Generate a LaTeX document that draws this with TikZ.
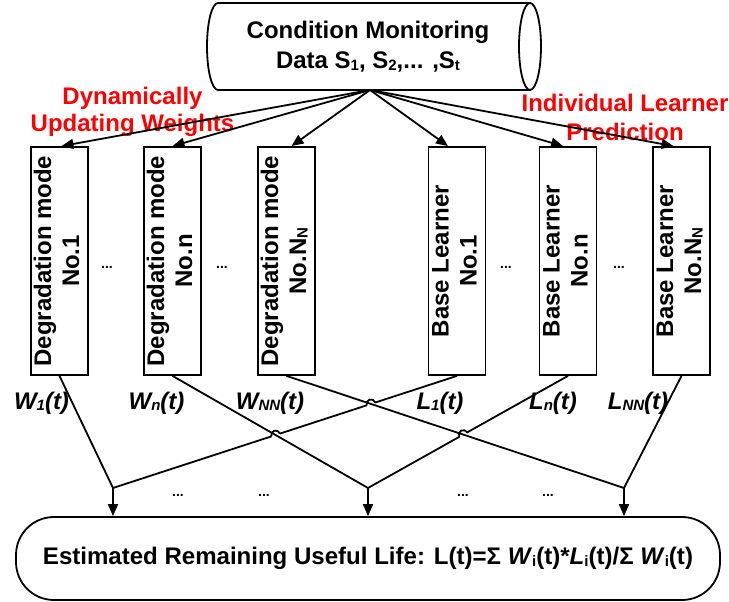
\documentclass[tikz,border=0pt]{standalone}
\usepackage{fontspec}
\setmainfont{Liberation Sans}
\usetikzlibrary{arrows.meta,calc}
% small subscript set just below the baseline
\newcommand\lowsub[1]{\raisebox{-1.5pt}{\fontsize{15}{15}\selectfont #1}}
\newcommand\vlabel[2]{\rotatebox{90}{\begin{tabular}{@{}c@{}}#1\\#2\end{tabular}}}

\begin{document}
\begin{tikzpicture}[x=1pt,y=1pt,
  txt/.style={font=\bfseries\fontsize{24}{28}\selectfont},
  unit/.style={txt, draw, line width=1.8pt, minimum width=57pt, minimum height=228pt, inner sep=0pt},
  lbl/.style={txt, inner sep=0pt},
  link/.style={line width=1.8pt},
  feed/.style={link, -{Triangle[length=12pt,width=10pt]}},
  dots/.style={font=\bfseries\fontsize{14}{14}\selectfont, inner sep=0pt},
  note/.style={text=red, align=center, inner sep=0pt}]
\useasboundingbox (0,0) rectangle (729,602);

% data source (horizontal cylinder)
\draw[link] (530,599) -- (218,599) arc[start angle=90, end angle=270, x radius=11, y radius=43.5] -- (530,512);
\draw[link] (530,555.5) ellipse[x radius=11, y radius=43.5];
\node[align=center, inner sep=0pt, font=\bfseries\fontsize{24}{30}\selectfont] (src) at (368,555)
  {Condition Monitoring\\Data S\lowsub{1}, S\lowsub{2},... ,S\lowsub{t}};
\coordinate (hub) at (370,512);

% red annotations
\node[note, font=\bfseries\fontsize{24}{27}\selectfont] (nw) at (132.5,490.5) {Dynamically\\Updating Weights};
\node[note, font=\bfseries\fontsize{24}{29}\selectfont] (nl) at (625,484.5) {Individual Learner\\Prediction};

% degradation modes and base learners
\node[unit] (b1) at (59.5,341) {\vlabel{Degradation mode}{No.1}};
\node[unit] (b2) at (172.5,341) {\vlabel{Degradation mode}{No.n}};
\node[unit] (b3) at (286.5,341) {\vlabel{Degradation mode}{No.N\lowsub{N}}};
\node[unit] (b4) at (457,341) {\vlabel{Base Learner}{No.1}};
\node[unit] (b5) at (568,341) {\vlabel{Base Learner}{No.n}};
\node[unit] (b6) at (681.5,341) {\vlabel{Base Learner}{No.N\lowsub{N}}};

\foreach \x in {107,222,506,619} \node[dots] at (\x,335) {...};

% feeds from the data source
\draw[feed] (hub) -- ($(b1.north)+(2,0)$);
\draw[feed] (hub) -- (b2.north);
\draw[feed] (hub) -- ($(b3.north)+(5,0)$);
\draw[feed] (hub) -- ($(b4.north)+(-9,0)$);
\draw[feed] (hub) -- ($(b5.north)+(-5,0)$);
\draw[feed] (hub) -- ($(b6.north)+(-8,0)$);

% output labels
\node[lbl] (w1) at (41.5,199) {\itshape W\lowsub{1}(t)};
\node[lbl] (wn) at (156.5,199) {\itshape W\lowsub{n}(t)};
\node[lbl] (wN) at (270,199) {\itshape W\lowsub{NN}(t)};
\node[lbl] (l1) at (440,199) {\itshape L\lowsub{1}(t)};
\node[lbl] (ln) at (553,199) {\itshape L\lowsub{n}(t)};
\node[lbl] (lN) at (638,199) {\itshape L\lowsub{NN}(t)};

% combination points and result
\coordinate (m1) at (113,114);
\coordinate (m2) at (368,114);
\coordinate (m3) at (624,114);
\node[draw, line width=1.8pt, rounded corners=38pt, minimum width=704pt, minimum height=83pt, inner sep=0pt] (rul) at (368,43.5)
  {\resizebox{650pt}{\height}{\bfseries\fontsize{24}{28}\selectfont Estimated Remaining Useful Life: L(t)=Σ \textit{W}\lowsub{i}(t)*\textit{L}\lowsub{i}(t)/Σ \textit{W}\lowsub{i}(t)}};

\foreach \x in {178,264,463,548} \node[dots] at (\x,107) {...};

\coordinate (s1) at (b1.south);
\coordinate (s2) at (b2.south);
\coordinate (s3) at (b3.south);
\coordinate (s4) at (b4.south);
\coordinate (s5) at (b5.south);
\coordinate (s6) at (b6.south);

\coordinate (c1) at (intersection of s3--m3 and s4--m1);
\coordinate (c2) at (intersection of s2--m2 and s4--m1);
\coordinate (c3) at (intersection of s3--m3 and s5--m2);

% learner outputs (these hop over the weight lines)
\draw[link] (s4) -- (m1);
\draw[link] (s5) -- (m2);
\draw[link] (s6) -- (m3);
\foreach \c in {c1,c2,c3} \fill[white] (\c) circle[radius=4.5];

% weight outputs
\draw[link] (s1) -- (m1);
\draw[link] (s2) -- (m2);
\draw[link] (s3) -- (m3);

% line jumps
\draw[link] let \p1=($(s4)-(m1)$), \n1={atan2(\y1,\x1)} in ($(c1)+(\n1:4.5)$) arc[start angle=\n1, delta angle=180, radius=4.5];
\draw[link] let \p1=($(s4)-(m1)$), \n1={atan2(\y1,\x1)} in ($(c2)+(\n1:4.5)$) arc[start angle=\n1, delta angle=180, radius=4.5];
\draw[link] let \p1=($(s5)-(m2)$), \n1={atan2(\y1,\x1)} in ($(c3)+(\n1:4.5)$) arc[start angle=\n1, delta angle=180, radius=4.5];

% into the estimate
\draw[feed] (m1) -- (m1 |- rul.north);
\draw[feed] (m2) -- (m2 |- rul.north);
\draw[feed] (m3) -- (m3 |- rul.north);
\end{tikzpicture}
\end{document}
